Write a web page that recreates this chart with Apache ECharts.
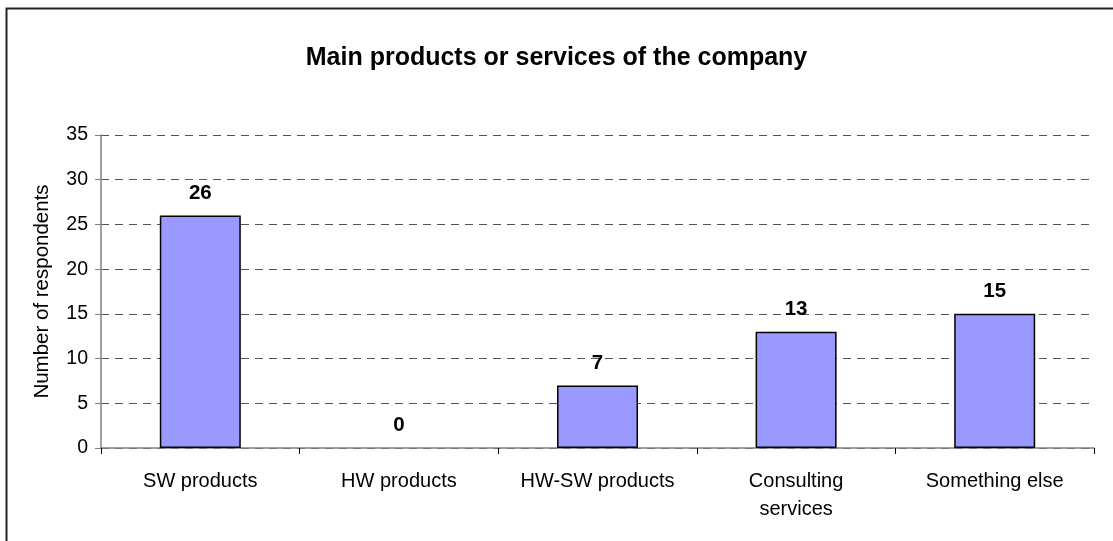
<!DOCTYPE html>
<html>
<head>
<meta charset="utf-8">
<script src="https://cdn.jsdelivr.net/npm/echarts@6/dist/echarts.min.js"></script>
<style>
  html, body { margin: 0; padding: 0; background: #fff; }
  #main { width: 1113px; height: 541px; }
</style>
</head>
<body>
<div id="main"></div>
<script>
// chart data
var categories = ['SW products', 'HW products', 'HW-SW products', 'Consulting\nservices', 'Something else'];
var respondents = [26, 0, 7, 13, 15];
var yTicks = [0, 5, 10, 15, 20, 25, 30, 35];

var fontFamily = '"Liberation Sans", Arial, sans-serif';

var myChart = echarts.init(document.getElementById('main'));

// zero-height bars get no outline, like the original
var barData = respondents.map(function (v) {
    return v === 0 ? { value: v, itemStyle: { borderWidth: 0 } } : v;
});

var option = {
    animation: false,
    backgroundColor: '#fff',
    title: {
        text: 'Main products or services of the company',
        left: 'center',
        top: 41,
        textStyle: { fontFamily: fontFamily, fontSize: 25, fontWeight: 'bold', color: '#000' }
    },
    // frame of the chart area (only top and left edges are visible)
    graphic: [{
        type: 'rect',
        shape: { x: 6.5, y: 8.5, width: 1300, height: 700 },
        style: { fill: null, stroke: '#222', lineWidth: 2 },
        silent: true
    }],
    grid: { left: 101, right: 19, top: 135, bottom: 93 },
    xAxis: {
        type: 'category',
        data: categories,
        axisLine: { lineStyle: { color: '#808080', width: 1.5 } },
        axisTick: { show: true, length: 6, lineStyle: { color: '#000' } },
        axisLabel: { margin: 19, fontFamily: fontFamily, fontSize: 20, color: '#000', lineHeight: 28, interval: 0 }
    },
    yAxis: {
        type: 'value',
        min: yTicks[0],
        max: yTicks[yTicks.length - 1],
        interval: 5,
        name: 'Number of respondents',
        nameLocation: 'middle',
        nameRotate: 90,
        nameGap: 48,
        nameTextStyle: { fontFamily: fontFamily, fontSize: 20.5, color: '#000' },
        axisLine: { show: true, lineStyle: { color: '#808080', width: 1.5 } },
        axisTick: { show: true, length: 6, lineStyle: { color: '#808080' } },
        axisLabel: { margin: 13, fontFamily: fontFamily, fontSize: 19.5, color: '#000' },
        splitLine: { show: true, lineStyle: { color: '#555', type: [8, 6], width: 1 } }
    },
    series: [{
        type: 'bar',
        data: barData,
        barWidth: 81,
        itemStyle: { color: '#9999FF', borderColor: '#000', borderWidth: 1.5 },
        label: {
            show: true,
            position: 'top',
            distance: 12,
            fontFamily: fontFamily,
            fontSize: 20.5,
            fontWeight: 'bold',
            color: '#000'
        }
    }]
};

myChart.setOption(option);
</script>
</body>
</html>
